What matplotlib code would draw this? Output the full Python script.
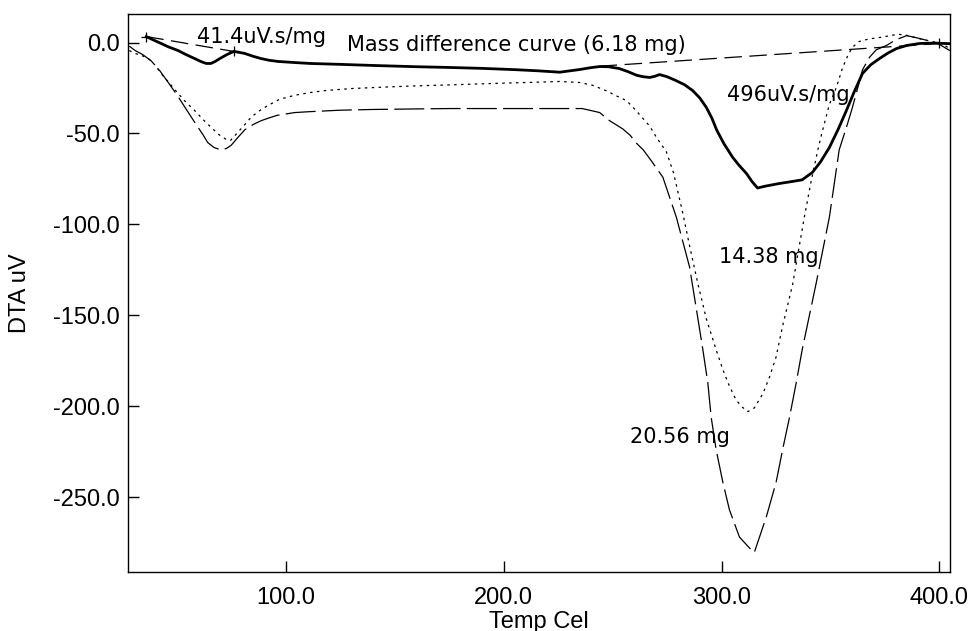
import matplotlib
matplotlib.use("Agg")
import matplotlib.pyplot as plt

# DTA curves (temperature in Cel, signal in uV)

# difference curve (6.18 mg), thick solid
diff_T = [35.8, 38, 42.6, 46, 50.4, 54, 58, 61, 63.3, 65.5, 67.4, 70, 73, 76,
          78.5, 81, 85, 88.5, 92, 96.3, 104, 111, 125, 140, 160, 175, 190, 205,
          215, 225.7, 235, 240, 244, 248, 253, 257, 261, 264, 267, 269.5, 271.5,
          275, 279, 283, 286.7, 290, 293, 295.5, 297.7, 301, 305, 308, 311.4, 314,
          316.5, 320, 326.6, 332, 337, 341.7, 345.5, 349.5, 353.5, 357.3, 361,
          364.7, 368.5, 372.5, 376.5, 380.3, 385, 391, 398, 404.5]
diff_V = [3.3, 2.0, -0.5, -2.4, -4.4, -6.6, -8.8, -10.5, -11.5, -11.5, -10.4, -8.5,
          -6.5, -4.9, -5.4, -6.0, -7.6, -8.8, -9.7, -10.4, -11.0, -11.5, -12.0, -12.6,
          -13.3, -13.7, -14.2, -14.9, -15.5, -16.3, -14.8, -13.8, -13.2, -13.3, -14.3,
          -16.0, -18.0, -18.8, -19.2, -18.5, -17.6, -18.8, -20.9, -23.2, -26.4, -30.5,
          -35.7, -41.5, -48.0, -55.5, -63.0, -67.5, -72.0, -76.5, -80.0, -79.0, -77.5,
          -76.5, -75.5, -71.4, -65.5, -57.7, -47.8, -37.4, -26.8, -17.0, -12.2, -8.8,
          -5.7, -3.3, -1.6, -0.5, -0.3, -0.6]

# 14.38 mg sample, dotted
s14_T = [28, 30.7, 33.5, 36.7, 39.5, 42.6, 46.5, 50.4, 54, 58, 62, 65.6, 69, 72.5,
         74.5, 76.6, 80, 84, 88, 91.7, 97, 104, 111, 118, 130, 145, 160, 175, 195,
         215, 225.7, 235, 241, 247, 252, 256.4, 260, 263.7, 267, 270, 274.6, 278,
         282.2, 285.5, 289.1, 293, 297.5, 300.6, 303.6, 306.7, 309.5, 312, 315, 319,
         322, 325, 328, 332.7, 335.5, 338, 341, 344.2, 346, 349.5, 352.7, 355.5, 358,
         360, 363, 366, 369, 374, 378, 381.6, 385, 389, 393, 397, 400, 403, 404.8]
s14_V = [-4.4, -6.0, -7.0, -8.8, -12.0, -17.0, -22.5, -28.0, -32.8, -37.4, -42.5,
         -46.7, -50.5, -53.3, -53.8, -51.0, -46.5, -41.0, -37.3, -34.6, -31.2, -29.0,
         -27.5, -26.4, -25.3, -24.5, -23.8, -23.3, -22.5, -21.8, -21.4, -22.0, -23.6,
         -26.5, -29.5, -32.0, -36.5, -41.5, -46.0, -52.0, -60.0, -72.0, -94.0, -113.0,
         -132.6, -152.0, -169.0, -180.0, -189.0, -196.7, -200.5, -203.0, -201.0, -193.0,
         -184.0, -173.0, -156.0, -132.6, -113.0, -96.0, -77.0, -59.0, -50.0, -34.0,
         -24.7, -14.0, -7.0, -2.7, 0.5, 1.5, 2.2, 3.0, 4.0, 4.5, 4.0, 2.7, 1.5, 0.5,
         -0.5, -2.0, -3.3]

# 20.56 mg sample, long dashes
s20_T = [28, 30.7, 34, 38, 42, 45.9, 50, 53.6, 57, 59.6, 62, 64, 67, 70, 72.5, 74.7,
         78, 81, 85, 88.5, 92, 96, 104, 111, 125, 140, 160, 175, 200, 225.7, 236,
         240, 244, 248.6, 254.6, 258, 261, 264, 267.7, 273, 279.2, 285.3, 289, 291.4,
         293.7, 295.2, 297.5, 300.6, 303.6, 308.2, 312.8, 315, 320.5, 325, 328, 331.2,
         334.2, 337, 343.4, 349.5, 354, 357.3, 360, 362.5, 364.7, 368, 371, 375.7,
         380, 385, 390, 395, 400, 404.8]
s20_V = [-2.0, -4.4, -6.5, -10.0, -15.5, -22.0, -29.0, -35.7, -42.0, -46.7, -51.0,
         -55.0, -57.8, -59.0, -58.3, -56.6, -52.0, -48.0, -45.0, -43.0, -41.5, -40.0,
         -38.5, -38.0, -37.2, -36.8, -36.5, -36.3, -36.3, -36.3, -36.3, -37.4, -38.5,
         -43.0, -47.5, -51.0, -55.5, -59.0, -65.0, -74.0, -96.0, -123.5, -151.0, -169.0,
         -187.5, -206.0, -224.0, -242.0, -257.0, -272.0, -278.0, -280.5, -261.0, -242.0,
         -224.0, -206.0, -187.5, -169.0, -132.5, -96.0, -59.0, -46.7, -36.0, -25.0,
         -15.0, -8.0, -4.0, -1.6, 1.5, 3.8, 2.5, 1.0, -1.0, -4.4]

# integration baselines (start / end points)
base1_T = [35.8, 76.0]
base1_V = [3.3, -4.9]
base2_T = [244.0, 400.0]
base2_V = [-13.0, -0.5]

xticks = [100, 200, 300, 400]
yticks = [0, -50, -100, -150, -200, -250]

fig = plt.figure(figsize=(9.72, 6.31), dpi=100)
ax = fig.add_axes([0.1317, 0.0935, 0.8457, 0.8843])

ax.plot(s20_T, s20_V, color="black", lw=0.9, linestyle=(0, (24, 5)))
ax.plot(s14_T, s14_V, color="black", lw=0.9, linestyle=(0, (2, 3.5)))
ax.plot(diff_T, diff_V, color="black", lw=2.0)
ax.plot(base1_T, base1_V, color="black", lw=0.9, linestyle=(0, (14, 6)))
ax.plot(base2_T, base2_V, color="black", lw=0.9, linestyle=(0, (14, 6)))
ax.plot([base1_T[0], base1_T[1], base2_T[1]], [base1_V[0], base1_V[1], base2_V[1]],
        linestyle="none", marker="+", ms=7, mew=0.9, color="black")

ax.text(59.2, -0.5, "41.4uV.s/mg", fontsize=15, family="DejaVu Sans")
ax.text(128, -4.4, "Mass difference curve (6.18 mg)", fontsize=15, family="DejaVu Sans")
ax.text(302.3, -31.9, "496uV.s/mg", fontsize=15, family="DejaVu Sans")
ax.text(299, -121.4, "14.38 mg", fontsize=15, family="DejaVu Sans")
ax.text(257.8, -220.3, "20.56 mg", fontsize=15, family="DejaVu Sans")

ax.set_xlim(27.4, 404.9)
ax.set_ylim(-291.2, 15.7)
ax.set_xticks(xticks)
ax.set_yticks(yticks)
ax.set_xticklabels(["%.1f" % t for t in xticks], fontsize=17, family="Liberation Sans")
ax.set_yticklabels(["%.1f" % t for t in yticks], fontsize=17, family="Liberation Sans")
ax.tick_params(direction="in", length=8, width=1, color="black")
ax.tick_params(axis="y", pad=6)
ax.tick_params(axis="x", pad=11)

ax.set_xlabel("Temp Cel", fontsize=17, family="Liberation Sans", labelpad=1)
ax.set_ylabel("DTA uV", fontsize=17, family="Liberation Sans", labelpad=16)

for s in ax.spines.values():
    s.set_linewidth(1.0)
    s.set_color("black")

fig.savefig("out.png", dpi=100)
